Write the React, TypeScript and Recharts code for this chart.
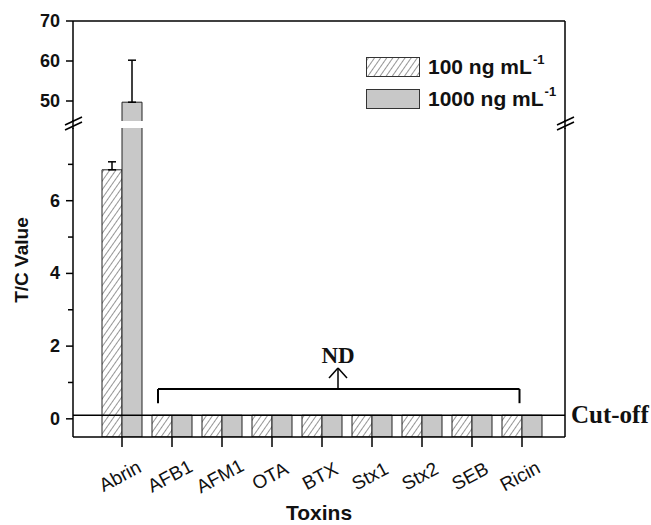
import React from "react";
import {
  BarChart,
  Bar,
  XAxis,
  YAxis,
  ErrorBar,
  ReferenceLine,
  ReferenceDot,
  Legend,
  Label,
} from "recharts";

// values
const toxins = ["Abrin", "AFB1", "AFM1", "OTA", "BTX", "Stx1", "Stx2", "SEB", "Ricin"];
const tc100 = [6.85, 0.1, 0.1, 0.1, 0.1, 0.1, 0.1, 0.1, 0.1];
const tc1000 = [49.7, 0.1, 0.1, 0.1, 0.1, 0.1, 0.1, 0.1, 0.1];
const err100 = [0.22, null, null, null, null, null, null, null, null];
const err1000 = [10.5, null, null, null, null, null, null, null, null];
const seriesNames = ["100 ng mL", "1000 ng mL"];
const unitExp = "-1";

const axisFloor = -0.5;
const cutOff = 0.1;
const lowerDomain = [axisFloor, 8];
const upperDomain = [45, 70];
const lowerTicks = [0, 1, 2, 3, 4, 5, 6, 7];
const upperTicks = [50, 60, 70];

// "ND" bracket, in category-index units (Abrin = 0 ... Ricin = 8)
const bracketX = [0.72, 7.95];
const bracketY = 0.82;
const bracketDrop = 0.43;
const arrowX = 4.32;
const arrowTop = 1.4;
const arrowWing = [0.18, 1.12];
const ndLabelY = 1.53;

const rows = toxins.map((name, i) => ({
  name,
  idx: i,
  low: [axisFloor, tc100[i]],
  high: [axisFloor, tc1000[i]],
  lowErr: err100[i] == null ? null : [0, err100[i]],
  highErr: err1000[i] == null ? null : [0, err1000[i]],
}));

const W = 651;
const H = 525;
const sans = "'Liberation Sans', Arial, sans-serif";
const serif = "'Liberation Serif', 'Times New Roman', serif";
const GRAY = "#c8c8c8";
const xPad = { left: 24, right: 18 };
const halfBand = 25;
const idxPad = { left: xPad.left + halfBand, right: xPad.right + halfBand };
const axisStroke = { stroke: "#000", strokeWidth: 1.5 };

const Hatch = ({ id }: { id: string }) => (
  <defs>
    <pattern
      id={id}
      patternUnits="userSpaceOnUse"
      width={5}
      height={10}
      patternTransform="rotate(35)"
    >
      <rect width={5} height={10} fill="#fff" />
      <line x1={2.5} y1={0} x2={2.5} y2={10} stroke="#8a8a8a" strokeWidth={0.9} />
    </pattern>
  </defs>
);

const LowerYTick = (props: any) => {
  const { x, y, payload } = props;
  const major = payload.value % 2 === 0;
  return (
    <g>
      <line x1={major ? x : x + 2} x2={x + 7} y1={y} y2={y} {...axisStroke} />
      {major && (
        <text
          x={x - 6}
          y={y}
          textAnchor="end"
          dominantBaseline="central"
          fontFamily={sans}
          fontWeight="bold"
          fontSize={18}
          fill="#111"
        >
          {payload.value}
        </text>
      )}
    </g>
  );
};

const UpperYTick = (props: any) => {
  const { x, y, payload } = props;
  return (
    <text
      x={x}
      y={y}
      textAnchor="end"
      dominantBaseline="central"
      fontFamily={sans}
      fontWeight="bold"
      fontSize={18}
      fill="#111"
    >
      {payload.value}
    </text>
  );
};

const XTick = (props: any) => {
  const { x, y, payload } = props;
  const cx = x - 2;
  const cy = y + 27;
  return (
    <text
      x={cx}
      y={cy}
      transform={`rotate(-28 ${cx} ${cy})`}
      textAnchor="middle"
      dominantBaseline="central"
      fontFamily={sans}
      fontSize={19}
      fill="#111"
    >
      {payload.value}
    </text>
  );
};

const renderLegend = (props: any) => {
  const items = [...(props.payload || [])].sort((a: any, b: any) =>
    a.dataKey === "low" ? -1 : b.dataKey === "low" ? 1 : 0
  );
  return (
    <div style={{ fontFamily: sans, fontWeight: 700, fontSize: 21, color: "#111" }}>
      <svg width={0} height={0} style={{ position: "absolute" }}>
        <Hatch id="hatchLegend" />
      </svg>
      {items.map((entry: any) => (
        <div
          key={entry.dataKey}
          style={{ display: "flex", alignItems: "center", height: 32, whiteSpace: "nowrap" }}
        >
          <svg width={54} height={20} style={{ display: "block" }}>
            <rect
              x={0.5}
              y={0.5}
              width={53}
              height={19}
              fill={entry.dataKey === "low" ? "url(#hatchLegend)" : GRAY}
              stroke="#333"
            />
          </svg>
          <span style={{ marginLeft: 8 }}>
            {entry.value}
            <span style={{ fontSize: 13, position: "relative", top: -10, marginLeft: 1 }}>
              {unitExp}
            </span>
          </span>
        </div>
      ))}
    </div>
  );
};

const Upper = () => (
  <BarChart
    width={W}
    height={H}
    data={rows}
    margin={{ top: 21, right: 86, bottom: 404, left: 23 }}
    barSize={20}
    barGap={0}
  >
    <Hatch id="hatchUpper" />
    <XAxis
      dataKey="name"
      orientation="top"
      mirror
      tick={false}
      tickSize={9}
      tickLine={axisStroke}
      axisLine={axisStroke}
      padding={xPad}
      interval={0}
    />
    <YAxis
      domain={upperDomain}
      ticks={upperTicks}
      allowDataOverflow
      width={50}
      tickSize={7}
      tickMargin={6}
      tick={<UpperYTick />}
      tickLine={axisStroke}
      axisLine={axisStroke}
      interval={0}
    />
    <YAxis
      yAxisId="r"
      orientation="right"
      mirror
      domain={upperDomain}
      ticks={upperTicks}
      allowDataOverflow
      tick={false}
      tickSize={8}
      tickLine={axisStroke}
      axisLine={axisStroke}
      interval={0}
    />
    <Legend
      layout="vertical"
      align="center"
      verticalAlign="middle"
      content={renderLegend}
      wrapperStyle={{ left: 366, top: 51, width: "auto", height: "auto" }}
    />
    <Bar
      dataKey="low"
      name={seriesNames[0]}
      fill="url(#hatchUpper)"
      stroke="#222"
      strokeWidth={1}
      isAnimationActive={false}
    />
    <Bar
      dataKey="high"
      name={seriesNames[1]}
      fill={GRAY}
      stroke="#222"
      strokeWidth={1}
      isAnimationActive={false}
    >
      <ErrorBar dataKey="highErr" direction="y" width={4} stroke="#000" strokeWidth={1.5} />
    </Bar>
  </BarChart>
);

const seg = (a: [number, number], b: [number, number]) => [
  { x: a[0], y: a[1] },
  { x: b[0], y: b[1] },
];

const Lower = () => (
  <BarChart
    width={W}
    height={H}
    data={rows}
    margin={{ top: 128, right: 86, bottom: 0, left: 23 }}
    barSize={20}
    barGap={0}
  >
    <Hatch id="hatchLower" />
    <XAxis
      dataKey="name"
      height={88}
      tickSize={10}
      tickMargin={2}
      tick={<XTick />}
      tickLine={axisStroke}
      axisLine={axisStroke}
      padding={xPad}
      interval={0}
    >
      <Label
        content={({ viewBox }: any) => (
          <text
            x={viewBox.x + viewBox.width / 2}
            y={viewBox.y + viewBox.height - 5}
            textAnchor="middle"
            fontFamily={sans}
            fontWeight="bold"
            fontSize={21}
            fill="#111"
          >
            Toxins
          </text>
        )}
      />
    </XAxis>
    <XAxis xAxisId="ann" dataKey="idx" type="number" hide padding={idxPad} />
    <YAxis
      domain={lowerDomain}
      ticks={lowerTicks}
      allowDataOverflow
      width={50}
      tickSize={7}
      tickMargin={0}
      tickLine={false}
      tick={<LowerYTick />}
      axisLine={axisStroke}
      interval={0}
    >
      <Label
        content={({ viewBox }: any) => {
          const cx = viewBox.x - 2;
          const cy = 260;
          return (
            <text
              x={cx}
              y={cy}
              transform={`rotate(-90 ${cx} ${cy})`}
              textAnchor="middle"
              dominantBaseline="central"
              fontFamily={sans}
              fontWeight="bold"
              fontSize={19}
              fill="#111"
            >
              T/C Value
            </text>
          );
        }}
      />
    </YAxis>
    <YAxis
      yAxisId="r"
      orientation="right"
      mirror
      domain={lowerDomain}
      ticks={lowerTicks}
      allowDataOverflow
      tick={false}
      tickSize={7}
      tickLine={axisStroke}
      axisLine={axisStroke}
      interval={0}
    />
    <Bar
      dataKey="low"
      fill="url(#hatchLower)"
      stroke="#222"
      strokeWidth={1}
      isAnimationActive={false}
    >
      <ErrorBar dataKey="lowErr" direction="y" width={4} stroke="#000" strokeWidth={1.5} />
    </Bar>
    <Bar dataKey="high" fill={GRAY} stroke="#222" strokeWidth={1} isAnimationActive={false} />
    <ReferenceLine
      y={cutOff}
      stroke="#000"
      strokeWidth={1.6}
      ifOverflow="visible"
      label={({ viewBox }: any) => (
        <text
          x={viewBox.x + viewBox.width + 6}
          y={viewBox.y + 8}
          fontFamily={serif}
          fontWeight="bold"
          fontSize={25}
          fill="#111"
        >
          Cut-off
        </text>
      )}
    />
    <ReferenceLine
      xAxisId="ann"
      segment={seg([bracketX[0], bracketY], [bracketX[1], bracketY])}
      stroke="#000"
      strokeWidth={2}
      ifOverflow="visible"
    />
    <ReferenceLine
      xAxisId="ann"
      segment={seg([bracketX[0], bracketY], [bracketX[0], bracketDrop])}
      stroke="#000"
      strokeWidth={2}
      ifOverflow="visible"
    />
    <ReferenceLine
      xAxisId="ann"
      segment={seg([bracketX[1], bracketY], [bracketX[1], bracketDrop])}
      stroke="#000"
      strokeWidth={2}
      ifOverflow="visible"
    />
    <ReferenceLine
      xAxisId="ann"
      segment={seg([arrowX, bracketY], [arrowX, arrowTop])}
      stroke="#000"
      strokeWidth={1.5}
      ifOverflow="visible"
    />
    <ReferenceLine
      xAxisId="ann"
      segment={seg([arrowX - arrowWing[0], arrowWing[1]], [arrowX, arrowTop])}
      stroke="#000"
      strokeWidth={1.5}
      ifOverflow="visible"
    />
    <ReferenceLine
      xAxisId="ann"
      segment={seg([arrowX + arrowWing[0], arrowWing[1]], [arrowX, arrowTop])}
      stroke="#000"
      strokeWidth={1.5}
      ifOverflow="visible"
    />
    <ReferenceDot
      xAxisId="ann"
      x={arrowX}
      y={ndLabelY}
      r={0}
      fill="none"
      stroke="none"
      ifOverflow="visible"
      label={({ viewBox }: any) => (
        <text
          x={viewBox.x + (viewBox.width || 0) / 2}
          y={viewBox.y + (viewBox.height || 0) / 2}
          textAnchor="middle"
          fontFamily={serif}
          fontWeight="bold"
          fontSize={23}
          fill="#111"
        >
          ND
        </text>
      )}
    />
  </BarChart>
);

// axis-break marks on both vertical axes
const BreakMarks = () => (
  <svg width={W} height={H} style={{ position: "absolute", left: 0, top: 0, pointerEvents: "none" }}>
    {[73, 565].map((x) => (
      <g key={x} stroke="#000" strokeWidth={1.5}>
        <line x1={x} x2={x} y1={120} y2={129} />
        <line x1={x - 8} y1={125} x2={x + 9} y2={117} />
        <line x1={x - 8} y1={130} x2={x + 9} y2={122} />
      </g>
    ))}
  </svg>
);

export default function App() {
  return (
    <div style={{ position: "absolute", left: 0, top: 0, width: W, height: H, background: "#fff" }}>
      <div style={{ position: "absolute", left: 0, top: 0 }}>
        <Lower />
      </div>
      <div style={{ position: "absolute", left: 0, top: 0 }}>
        <Upper />
      </div>
      <BreakMarks />
    </div>
  );
}
